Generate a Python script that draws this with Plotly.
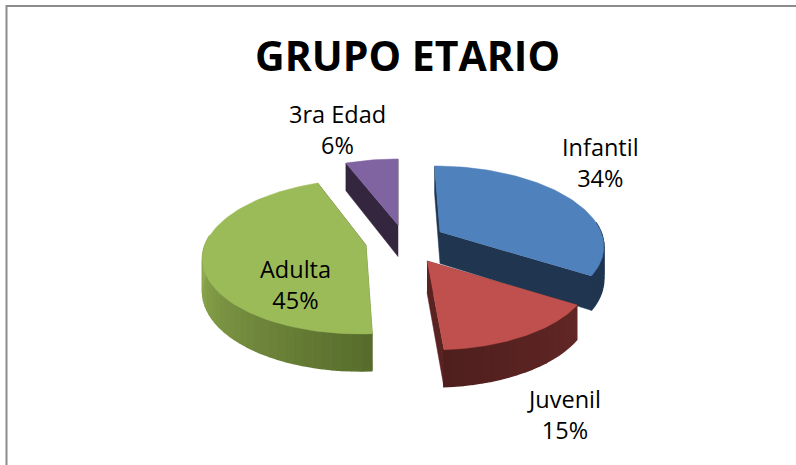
"""Exploded 3D-look pie, GRUPO ETARIO. Plotly has no 3D pie, so the faces are
filled scatter polygons worked out from the shares."""

import numpy as np
import plotly.graph_objects as go

LABELS = ["Infantil", "Juvenil", "Adulta", "3ra Edad"]
SHARES = [34, 15, 45, 6]
COLORS = ["#4F81BD", "#C0504D", "#9BBB59", "#8064A2"]
FACE_COLORS = ["#1F3550", "#5A2322", "#566B2B", "#35263F"]
WALL_NEAR = ["#1F3550", "#4F1F1E", "#566B2B", "#35263F"]
WALL_FAR = ["#1F3550", "#6E2C2A", "#8FAB50", "#35263F"]

# wedge tips after the explosion, in page pixels
TIP_X = [440, 427, 366, 398]
TIP_Y = [232, 261, 245, 225]
LABEL_X = [600, 564, 295, 337]
LABEL_Y = [162, 414, 284, 129]
DRAW_ORDER = [3, 0, 2, 1]

RADIUS_X = 161
RADIUS_Y = 75.8
PERSPECTIVE = 0.148
DEPTH = 31.5
VANISH_X = 398


def project(tip_x, tip_y, radius, angle, drop=0.0):
    """Map a point of the pie disc to the page, angle clockwise from the back."""
    u = radius * np.sin(np.radians(angle))
    v = radius * np.cos(np.radians(angle))
    w = 1 / (1 + PERSPECTIVE * v)
    x = VANISH_X + (tip_x - VANISH_X + RADIUS_X * u) * w
    y = tip_y - RADIUS_Y * v * w + DEPTH * w * drop
    return x, y


def mix(c1, c2, t):
    a = [int(c1[i:i + 2], 16) for i in (1, 3, 5)]
    b = [int(c2[i:i + 2], 16) for i in (1, 3, 5)]
    return "rgb({},{},{})".format(*[round(p + (q - p) * t) for p, q in zip(a, b)])


def polygon(fig, points, color, width=0.5):
    xs, ys = zip(*points)
    fig.add_trace(go.Scatter(
        x=xs, y=ys, mode="lines", fill="toself", fillcolor=color,
        line=dict(color=color, width=width), hoverinfo="skip", showlegend=False,
    ))


fig = go.Figure()
edges = np.cumsum([0] + SHARES) / sum(SHARES) * 360

for i in DRAW_ORDER:
    tx, ty = TIP_X[i], TIP_Y[i]
    start, end = edges[i], edges[i + 1]

    # flat cut faces
    for angle in (start, end):
        polygon(fig, [project(tx, ty, 0, angle), project(tx, ty, 1, angle),
                      project(tx, ty, 1, angle, 1), project(tx, ty, 0, angle, 1)],
                FACE_COLORS[i])

    # outer wall, in short strips so the shading can change along it
    steps = np.linspace(start, end, max(int(end - start) // 3, 2) + 1)
    for a, b in zip(steps[:-1], steps[1:]):
        mid = (a + b) / 2
        if np.cos(np.radians(mid)) > 0.15:  # back of the rim is hidden anyway
            continue
        t = min(abs(mid - 176) / 90, 1)
        polygon(fig, [project(tx, ty, 1, a), project(tx, ty, 1, b),
                      project(tx, ty, 1, b, 1), project(tx, ty, 1, a, 1)],
                mix(WALL_NEAR[i], WALL_FAR[i], t), width=1.5)

    # top face
    rim = [project(tx, ty, 1, a) for a in np.linspace(start, end, 80)]
    polygon(fig, [project(tx, ty, 0, start)] + rim, COLORS[i])

for label, share, x, y in zip(LABELS, SHARES, LABEL_X, LABEL_Y):
    fig.add_annotation(x=x, y=y, text=f"{label}<br>{share}%", showarrow=False,
                       font=dict(size=23.5, color="#000000"))

fig.add_annotation(x=407, y=55, text="<b>GRUPO ETARIO</b>", showarrow=False,
                   font=dict(size=41, color="#000000"))

fig.add_shape(type="path", path="M 6.5 465 L 6.5 6 L 796 6",
              line=dict(color="#8C8C8C", width=2))

fig.update_layout(
    width=796,
    height=465,
    margin=dict(l=0, r=0, t=0, b=0),
    paper_bgcolor="white",
    plot_bgcolor="white",
    font=dict(family="Open Sans"),
    showlegend=False,
    xaxis=dict(range=[0, 796], visible=False, fixedrange=True),
    yaxis=dict(range=[465, 0], visible=False, fixedrange=True),
)

# the page's default body margin would push the figure off by 8px
fig.write_html("out.html", config=dict(displayModeBar=False),
               post_script="document.body.style.margin = '0';")
